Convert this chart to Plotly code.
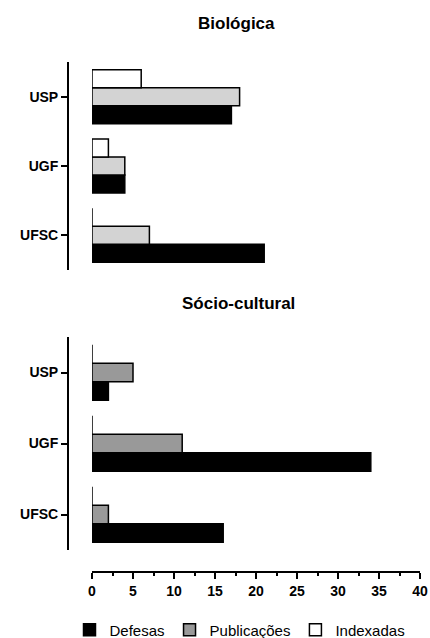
import plotly.graph_objects as go

categories = ["USP", "UGF", "UFSC"]
series_names = ["Defesas", "Publicações", "Indexadas"]

bio_defesas = [17, 4, 21]
bio_publicacoes = [18, 4, 7]
bio_indexadas = [6, 2, 0]

soc_defesas = [2, 34, 16]
soc_publicacoes = [5, 11, 2]
soc_indexadas = [0, 0, 0]

x_ticks = [0, 5, 10, 15, 20, 25, 30, 35, 40]

FONT = "Arial, Liberation Sans, sans-serif"
line = dict(color="black", width=1.5)

fig = go.Figure()

bio_colors = ["black", "#d3d3d3", "white"]
soc_colors = ["black", "#999999", "white"]

for name, vals, col in zip(series_names, [bio_defesas, bio_publicacoes, bio_indexadas], bio_colors):
    fig.add_trace(go.Bar(y=categories, x=vals, name=name, orientation="h",
                         marker=dict(color=col, line=line), showlegend=False,
                         xaxis="x2", yaxis="y2"))

for name, vals, col in zip(series_names, [soc_defesas, soc_publicacoes, soc_indexadas], soc_colors):
    fig.add_trace(go.Bar(y=categories, x=vals, name=name, orientation="h",
                         marker=dict(color=col, line=line), showlegend=True,
                         xaxis="x", yaxis="y"))

W, H = 430, 638
PL, PR, PT, PB = 68, 420, 62, 572   # paper edges in window pixels
L, R, T, B = PL, W - PR, PT, H - PB
ph = PB - PT
pw = PR - PL
xdom = [(92 - PL) / pw, 1]

def ydom(top_px, bot_px):
    return [(PB - bot_px) / ph, (PB - top_px) / ph]

def px_x(x):
    return (x - PL) / pw

def px_y(y):
    return (PB - y) / ph

yaxis_common = dict(
    categoryorder="array", categoryarray=["UFSC", "UGF", "USP"],
    range=[-0.5, 2.5], anchor="free", position=0, automargin=False,
    showline=True, linecolor="black", linewidth=2,
    ticks="outside", ticklen=6, tickwidth=2, tickcolor="black",
    showgrid=False, zeroline=False,
    tickfont=dict(family=FONT, size=14, color="black", weight="bold"),
)

fig.update_layout(
    width=W, height=H,
    margin=dict(l=L, r=R, t=T, b=B, autoexpand=False),
    plot_bgcolor="white", paper_bgcolor="white",
    barmode="group", bargap=0.22, bargroupgap=0,
    font=dict(family=FONT, color="black"),
    xaxis=dict(domain=xdom, range=[0, 40], anchor="free", position=0, automargin=False,
               tickvals=x_ticks, ticktext=["<b>%d</b>" % v for v in x_ticks],
               ticklabeloverflow="allow",
               showline=True, linecolor="black", linewidth=2,
               ticks="outside", ticklen=6, tickwidth=2, tickcolor="black",
               minor=dict(dtick=2.5, ticks="outside", ticklen=3, tickwidth=2, tickcolor="black"),
               showgrid=False, zeroline=False,
               tickfont=dict(family=FONT, size=14, color="black", weight="bold")),
    yaxis=dict(domain=ydom(337, 550), **yaxis_common),
    xaxis2=dict(domain=xdom, range=[0, 40], anchor="y2", visible=False, showgrid=False, automargin=False),
    yaxis2=dict(domain=ydom(62, 270), **yaxis_common),
    legend=dict(orientation="h", x=px_x(240), xanchor="center", y=px_y(630), yanchor="middle",
                font=dict(family=FONT, size=15, color="black"), traceorder="normal", itemwidth=30),
    annotations=[
        dict(text="<b>Biológica</b>", x=px_x(236), y=px_y(23), xref="paper", yref="paper",
             showarrow=False, font=dict(family=FONT, size=17, color="black"), xanchor="center", yanchor="middle"),
        dict(text="<b>Sócio-cultural</b>", x=px_x(238), y=px_y(303), xref="paper", yref="paper",
             showarrow=False, font=dict(family=FONT, size=17, color="black"), xanchor="center", yanchor="middle"),
    ],
)

fig.write_html("out.html", config={"displayModeBar": False},
               post_script="document.body.style.margin='0';document.body.style.overflow='hidden';")
